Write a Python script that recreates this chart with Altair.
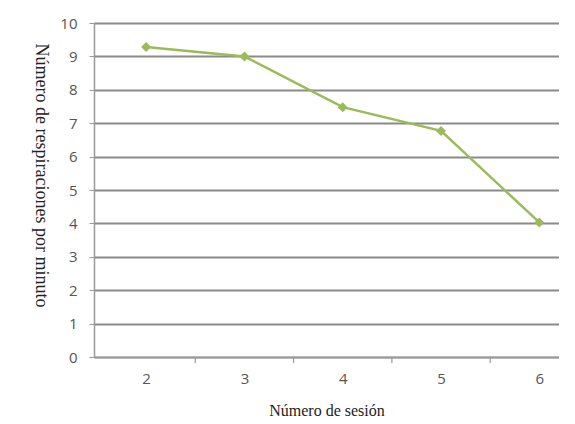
import altair as alt
import pandas as pd

sessions = [2, 3, 4, 5, 6]
breaths = [9.28, 9.0, 7.48, 6.77, 4.03]

df = pd.DataFrame({"sesion": sessions, "resp": breaths})
bounds = pd.DataFrame({"sesion": [s + 0.5 for s in sessions[:-1]]})

axis_common = dict(labelFont="Open Sans", labelFontSize=15, labelColor="#555",
                   tickColor="#999", domainColor="#999", domainWidth=1.5,
                   titleFont="Liberation Serif", titleFontWeight="normal", titleColor="#222")

xscale = alt.Scale(domain=[1.47, 6.2], nice=False, zero=False)
xaxis = alt.Axis(values=sessions, format="d", grid=False, ticks=False, labelPadding=14,
                 titleFontSize=16, titlePadding=16, **axis_common)
x = alt.X("sesion:Q", title="Número de sesión", scale=xscale, axis=xaxis)
y = alt.Y("resp:Q", title="Número de respiraciones por minuto",
          scale=alt.Scale(domain=[0, 10], nice=False),
          axis=alt.Axis(values=list(range(0, 11)), grid=True, gridColor="#8a8a8a", gridWidth=2,
                        tickSize=5, labelPadding=12, titleFontSize=18,
                        titleAngle=90, titleX=-54, titleY=152, titleAlign="center",
                        titleBaseline="middle", **axis_common))

line = alt.Chart(df).mark_line(color="#9bbb59", strokeWidth=2.5).encode(x=x, y=y)
pts = alt.Chart(df).mark_point(shape="diamond", filled=True, color="#9bbb59", size=100, opacity=1).encode(x=x, y=y)
ticks = alt.Chart(bounds).mark_rule(color="#999", strokeWidth=1.2).encode(
    x=x, y=alt.value(334), y2=alt.value(340))

chart = (line + pts + ticks).properties(
    width=465, height=334,
    autosize=alt.AutoSizeParams(type="none"),
    padding={"left": 86, "top": 15, "right": 0, "bottom": 64},
).configure_view(stroke=None).configure(background="white")

chart.save("out.html", embed_options={"renderer": "svg", "actions": False})
